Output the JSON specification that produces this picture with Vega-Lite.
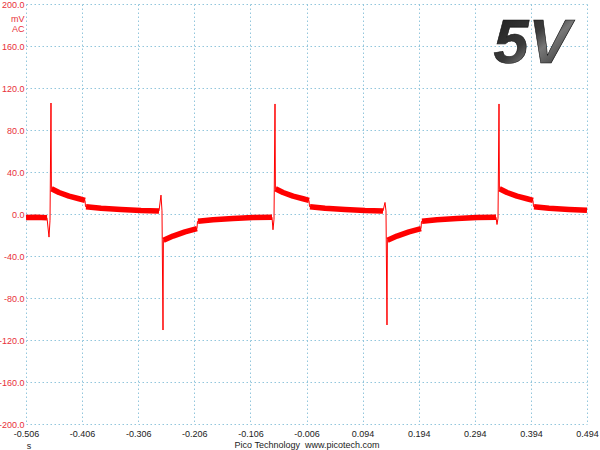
{
  "$schema": "https://vega.github.io/schema/vega-lite/v6.json",
  "width": 561,
  "height": 420,
  "autosize": {"type": "none"},
  "padding": {"left": 26, "top": 4, "right": 13, "bottom": 26},
  "background": "white",
  "config": {"view": {"stroke": null}, "font": "Liberation Sans"},
  "data": {"values": [
    {"t": -0.506, "v": -3.3, "s": "D0"},
    {"t": -0.48818, "v": -3.0, "s": "D0"},
    {"t": -0.46857, "v": -3.5, "s": "D0"},
    {"t": -0.465, "v": -22},
    {"t": -0.46322, "v": -6},
    {"t": -0.46144, "v": 105.7},
    {"t": -0.46072, "v": 24},
    {"t": -0.46055, "v": 24, "s": "A1"},
    {"t": -0.44718, "v": 20.5, "s": "A1"},
    {"t": -0.42935, "v": 17, "s": "A1"},
    {"t": -0.41153, "v": 14.5, "s": "A1"},
    {"t": -0.40083, "v": 13, "s": "A1"},
    {"t": -0.39994, "v": 7},
    {"t": -0.39905, "v": 7, "s": "B1"},
    {"t": -0.37231, "v": 5.5, "s": "B1"},
    {"t": -0.33666, "v": 4.3, "s": "B1"},
    {"t": -0.30101, "v": 3.3, "s": "B1"},
    {"t": -0.26892, "v": 2.8, "s": "B1"},
    {"t": -0.26536, "v": 18},
    {"t": -0.26358, "v": 3},
    {"t": -0.26179, "v": -110.5},
    {"t": -0.26108, "v": -25},
    {"t": -0.2609, "v": -25, "s": "C1"},
    {"t": -0.24397, "v": -21, "s": "C1"},
    {"t": -0.22258, "v": -17, "s": "C1"},
    {"t": -0.20119, "v": -14, "s": "C1"},
    {"t": -0.2003, "v": -7},
    {"t": -0.1994, "v": -7, "s": "D1"},
    {"t": -0.17267, "v": -5.5, "s": "D1"},
    {"t": -0.13702, "v": -4.3, "s": "D1"},
    {"t": -0.10137, "v": -3.3, "s": "D1"},
    {"t": -0.0675, "v": -3, "s": "D1"},
    {"t": -0.06572, "v": -15},
    {"t": -0.06393, "v": -5},
    {"t": -0.06215, "v": 104.8},
    {"t": -0.06144, "v": 24},
    {"t": -0.06126, "v": 24, "s": "A2"},
    {"t": -0.04789, "v": 20.5, "s": "A2"},
    {"t": -0.03007, "v": 17, "s": "A2"},
    {"t": -0.01224, "v": 14.5, "s": "A2"},
    {"t": -0.00154, "v": 13, "s": "A2"},
    {"t": -0.00065, "v": 7},
    {"t": 0.00024, "v": 7, "s": "B2"},
    {"t": 0.02698, "v": 5.5, "s": "B2"},
    {"t": 0.06263, "v": 4.3, "s": "B2"},
    {"t": 0.09828, "v": 3.3, "s": "B2"},
    {"t": 0.13036, "v": 2.8, "s": "B2"},
    {"t": 0.13393, "v": 11},
    {"t": 0.13571, "v": 3},
    {"t": 0.13749, "v": -105.7},
    {"t": 0.13821, "v": -25},
    {"t": 0.13839, "v": -25, "s": "C2"},
    {"t": 0.15532, "v": -21, "s": "C2"},
    {"t": 0.17671, "v": -17, "s": "C2"},
    {"t": 0.1981, "v": -14, "s": "C2"},
    {"t": 0.19899, "v": -7},
    {"t": 0.19988, "v": -7, "s": "D2"},
    {"t": 0.22662, "v": -5.5, "s": "D2"},
    {"t": 0.26227, "v": -4.3, "s": "D2"},
    {"t": 0.29792, "v": -3.3, "s": "D2"},
    {"t": 0.33179, "v": -3, "s": "D2"},
    {"t": 0.33357, "v": -10},
    {"t": 0.33536, "v": -4},
    {"t": 0.33714, "v": 104.8},
    {"t": 0.33785, "v": 24},
    {"t": 0.33803, "v": 24, "s": "A3"},
    {"t": 0.3514, "v": 20.5, "s": "A3"},
    {"t": 0.36922, "v": 17, "s": "A3"},
    {"t": 0.38705, "v": 14.5, "s": "A3"},
    {"t": 0.39774, "v": 13, "s": "A3"},
    {"t": 0.39864, "v": 7},
    {"t": 0.39953, "v": 7, "s": "B3"},
    {"t": 0.42626, "v": 5.5, "s": "B3"},
    {"t": 0.46191, "v": 4.3, "s": "B3"},
    {"t": 0.494, "v": 3.5, "s": "B3"}
  ]},
  "encoding": {
    "x": {
      "field": "t", "type": "quantitative",
      "scale": {"domain": [-0.506, 0.494], "nice": false, "zero": false},
      "axis": {
        "values": [-0.506, -0.406, -0.306, -0.206, -0.106, -0.006, 0.094, 0.194, 0.294, 0.394, 0.494],
        "format": ".3f",
        "labelExpr": "replace(datum.label, '\u2212', '-')",
        "grid": true, "gridColor": "#92c6dc", "gridDash": [1.5, 2.5], "gridWidth": 1,
        "domain": false, "ticks": false,
        "labelColor": "#222222", "labelFontSize": 9, "labelPadding": 5, "labelFont": "Liberation Sans",
        "labelFlush": false, "labelOverlap": false,
        "title": "Pico Technology\u00a0\u00a0www.picotech.com",
        "titleFontSize": 9, "titleFontWeight": "normal", "titleColor": "#222222", "titleFont": "Liberation Sans",
        "titleY": 20, "titleBaseline": "middle"
      }
    },
    "y": {
      "field": "v", "type": "quantitative",
      "scale": {"domain": [-200, 200], "nice": false, "zero": false},
      "axis": {
        "values": [-200, -160, -120, -80, -40, 0, 40, 80, 120, 160, 200],
        "format": ".1f",
        "labelExpr": "replace(datum.label, '\u2212', '-')",
        "grid": true, "gridColor": "#92c6dc", "gridDash": [1.5, 2.5], "gridWidth": 1,
        "domain": false, "ticks": false,
        "labelColor": "#e8303a", "labelFontSize": 9, "labelPadding": 2, "labelFont": "Liberation Sans",
        "labelFlush": false, "labelOverlap": false,
        "title": ["mV", "AC"],
        "titleAngle": 0, "titleAlign": "right", "titleBaseline": "top",
        "titleX": -2, "titleY": 10, "titleLineHeight": 10,
        "titleFontSize": 9, "titleFontWeight": "normal", "titleColor": "#e8303a", "titleFont": "Liberation Sans"
      }
    }
  },
  "layer": [
    {
      "transform": [{"filter": "isValid(datum.s)"}],
      "mark": {"type": "line", "color": "#ff0000", "strokeWidth": 5.5, "strokeCap": "butt", "strokeJoin": "round"},
      "encoding": {"detail": {"field": "s", "type": "nominal"}}
    },
    {
      "mark": {"type": "line", "color": "#ff0000", "strokeWidth": 1},
      "encoding": {}
    },
    {
      "data": {"values": [{"t": 0.396, "v": 144, "label": "5V"}]},
      "mark": {
        "type": "text", "fontSize": 63, "fontWeight": "bold", "fontStyle": "italic", "font": "Liberation Sans",
        "align": "center", "baseline": "alphabetic",
        "fill": {"gradient": "linear", "x1": 0, "y1": 0, "x2": 1, "y2": 1,
          "stops": [{"offset": 0, "color": "#1a1a1a"}, {"offset": 0.45, "color": "#3a3a3a"}, {"offset": 0.6, "color": "#777777"}, {"offset": 1, "color": "#1a1a1a"}]},
        "stroke": "#111111", "strokeWidth": 0.6
      },
      "encoding": {"text": {"field": "label"}}
    },
    {
      "data": {"values": [{"t": -0.5007, "v": -221, "label": "s"}]},
      "mark": {"type": "text", "fontSize": 9, "font": "Liberation Sans", "align": "center", "baseline": "middle", "color": "#222222"},
      "encoding": {"text": {"field": "label"}}
    }
  ]
}
